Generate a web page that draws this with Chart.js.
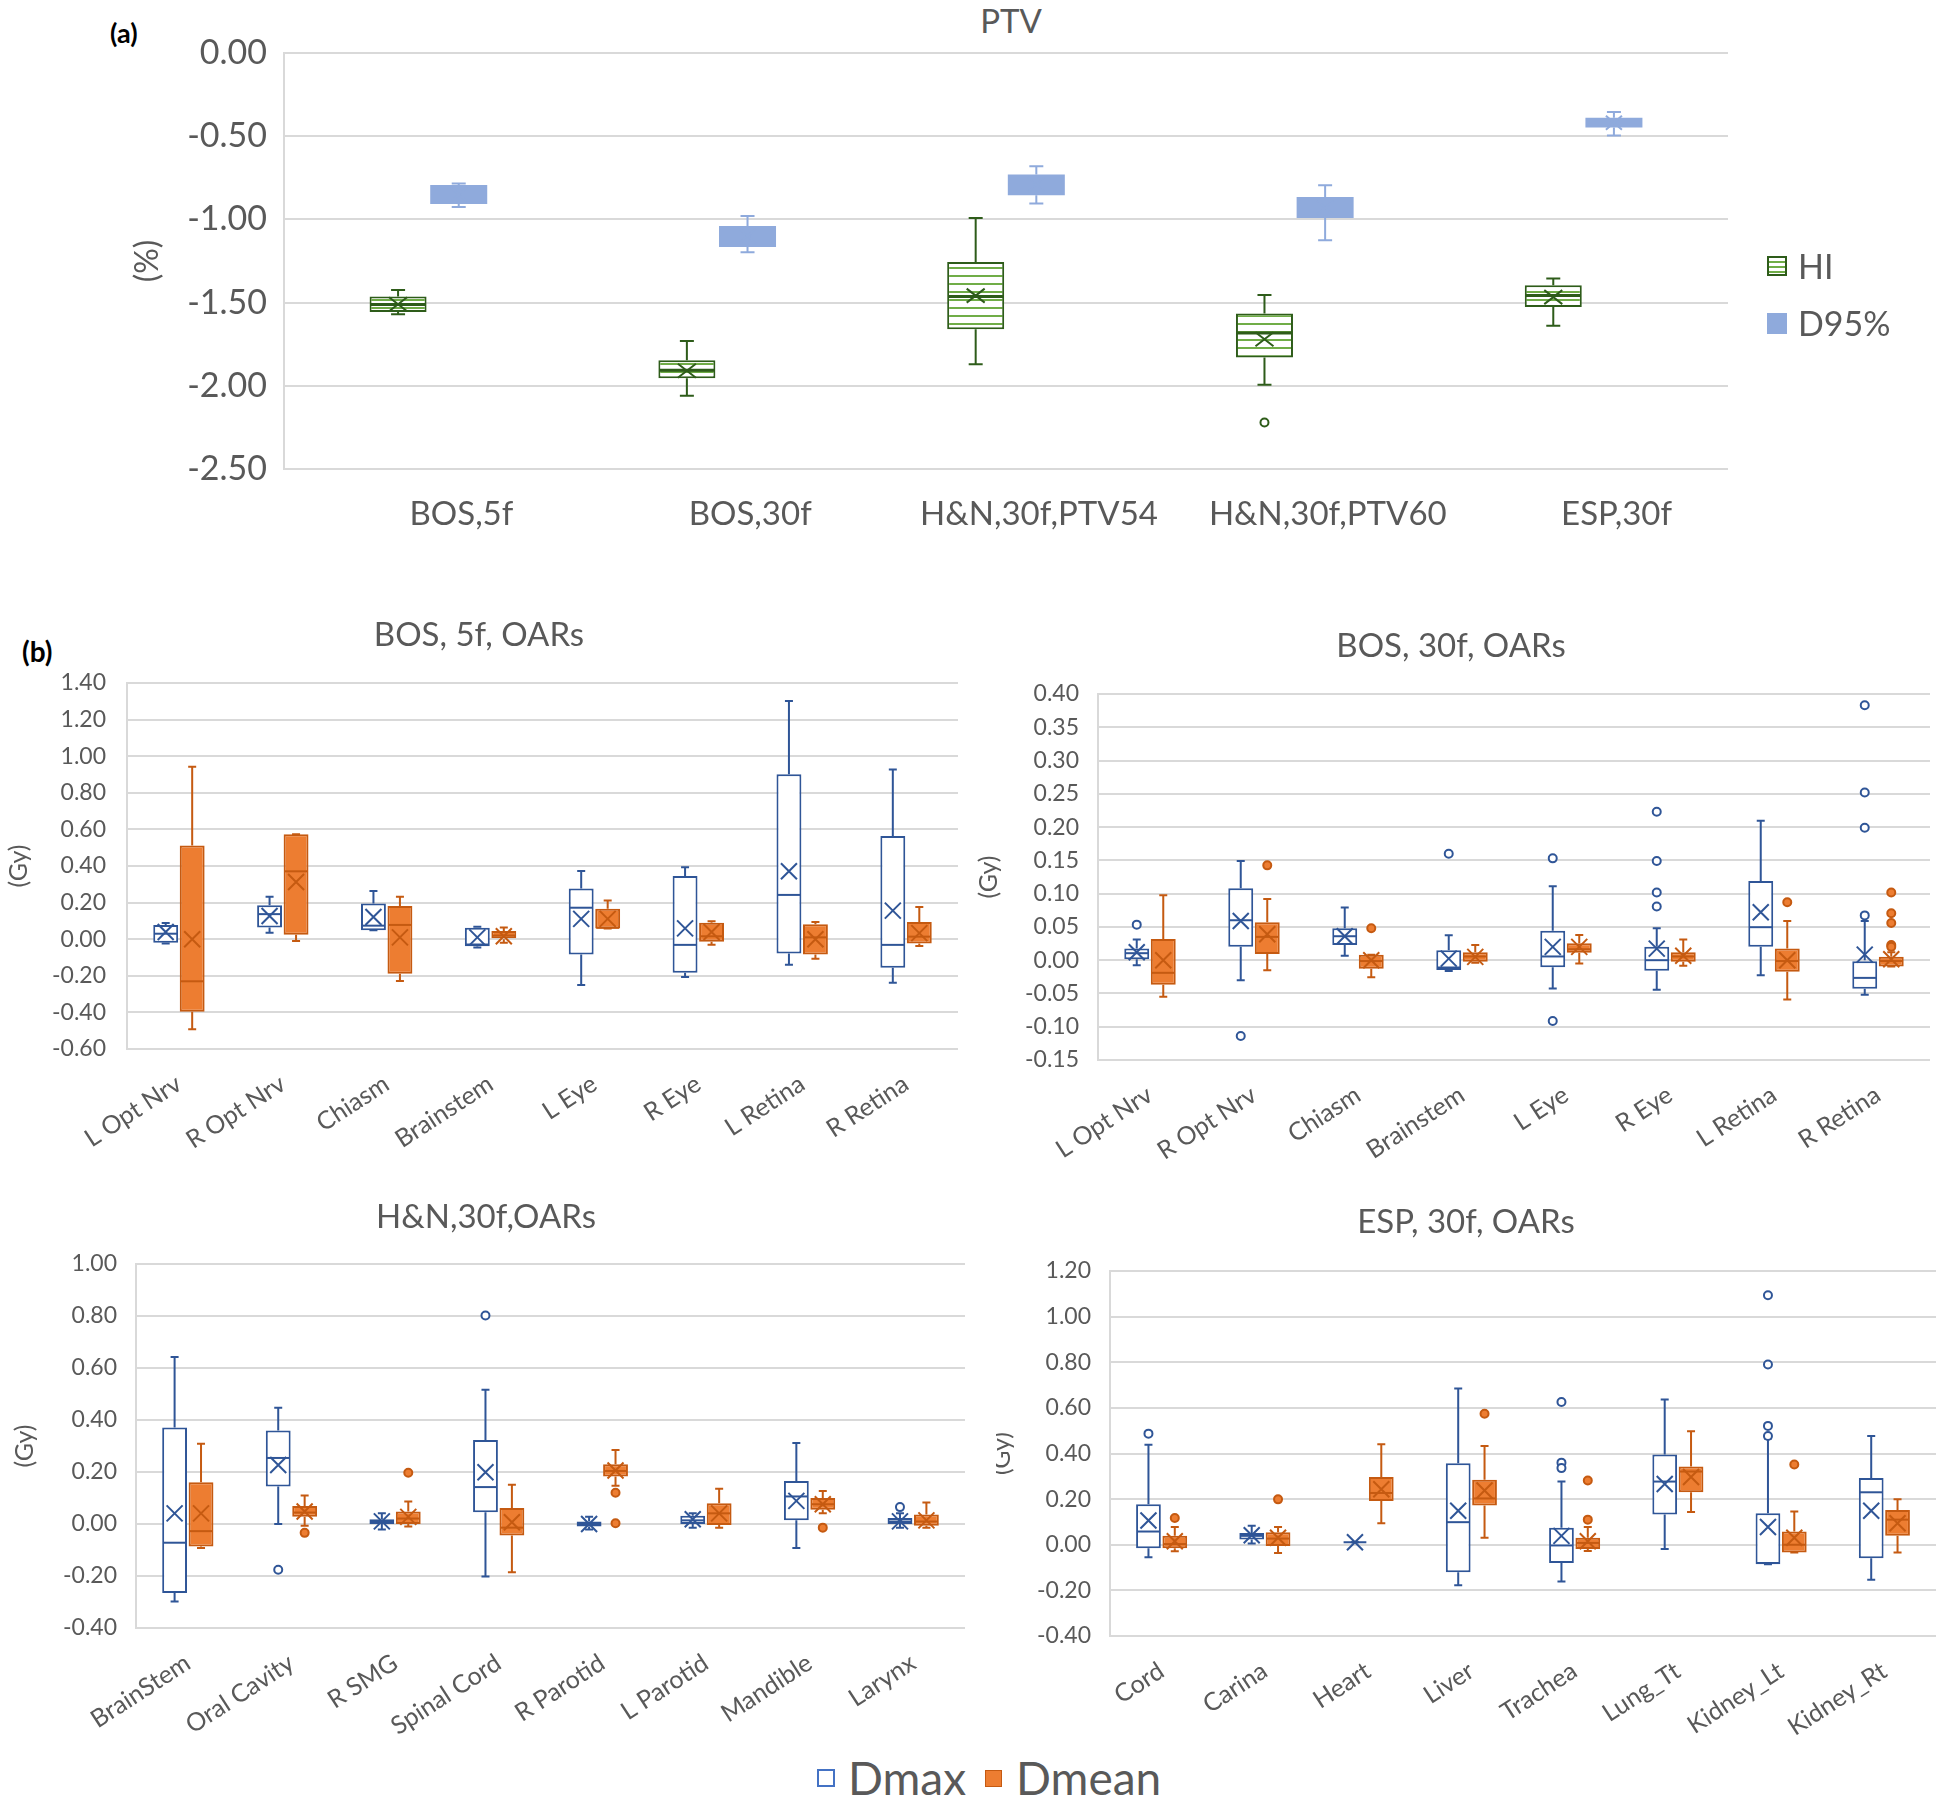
<!DOCTYPE html>
<html>
<head>
<meta charset="utf-8">
<script src="https://cdn.jsdelivr.net/npm/chart.js@4.4.0/dist/chart.umd.min.js"></script>
<style>
  html, body { margin: 0; padding: 0; background: #fff; }
  body { width: 1950px; height: 1801px; position: relative; overflow: hidden; font-family: Lato, 'Open Sans', sans-serif; }
  .box { position: absolute; }
  .tag { position: absolute; font-weight: bold; color: #000; line-height: 1; }
  .ttl { position: absolute; color: #595959; line-height: 1; transform: translate(-50%, -50%); white-space: nowrap; }
  .leg { position: absolute; display: flex; align-items: center; color: #595959; line-height: 1; }
  .sw { display: inline-block; box-sizing: border-box; }
</style>
</head>
<body>

<div class="tag" style="left:110px;top:19px;font-size:27px;">(a)</div>
<div class="tag" style="left:22px;top:637px;font-size:28px;">(b)</div>
<div class="ttl" style="left:1011px;top:20px;font-size:33px;">PTV</div>

<div class="box" style="left:0;top:0;width:1950px;height:560px;"><canvas id="c-ptv"></canvas></div>
<div class="box" style="left:0;top:600px;width:960px;height:570px;"><canvas id="c-bos5"></canvas></div>
<div class="box" style="left:972px;top:600px;width:958px;height:575px;"><canvas id="c-bos30"></canvas></div>
<div class="box" style="left:7px;top:1180px;width:965px;height:570px;"><canvas id="c-hn"></canvas></div>
<div class="box" style="left:996px;top:1180px;width:954px;height:570px;"><canvas id="c-esp"></canvas></div>

<!-- legend (a) -->
<div class="leg" style="left:1767px;top:249px;font-size:34px;">
  <span class="sw" style="width:20px;height:20px;border:2px solid #2e5c1a;background:repeating-linear-gradient(to bottom,#fff 0 3px,#70ad47 3px 5px);"></span>
  <span style="margin-left:11px;">HI</span>
</div>
<div class="leg" style="left:1767px;top:306px;font-size:34px;">
  <span class="sw" style="width:20px;height:21px;background:#8faadc;"></span>
  <span style="margin-left:11px;">D95%</span>
</div>

<!-- legend (b) -->
<div class="leg" style="left:817px;top:1755px;font-size:46px;">
  <span class="sw" style="width:18px;height:18px;border:2px solid #4472c4;background:#fff;"></span>
  <span style="margin-left:13px;">Dmax</span>
  <span class="sw" style="width:17px;height:17px;border:1px solid #c55a11;background:#ed7d31;margin-left:19px;"></span>
  <span style="margin-left:14px;">Dmean</span>
</div>

<script>
/* ── DATOS ── each row: [min, q1, median, q3, max, mean] ── */
const ptvCats = ['BOS,5f', 'BOS,30f', 'H&N,30f,PTV54', 'H&N,30f,PTV60', 'ESP,30f'];
const hiStats = [
  [-1.570, -1.557, -1.512, -1.463, -1.424, -1.510],
  [-2.060, -1.954, -1.907, -1.847, -1.731, -1.910],
  [-1.871, -1.660, -1.463, -1.256, -0.992, -1.458],
  [-1.993, -1.830, -1.682, -1.566, -1.454, -1.720],
  [-1.639, -1.527, -1.458, -1.396, -1.355, -1.467],
];
const hiOut = [[], [], [], [-2.221], []];
const d95Stats = [
  [-0.926, -0.908, -0.850, -0.793, -0.784, -0.850],
  [-1.198, -1.166, -1.100, -1.040, -0.979, -1.100],
  [-0.904, -0.855, -0.790, -0.730, -0.681, -0.790],
  [-1.125, -0.992, -0.930, -0.866, -0.795, -0.930],
  [-0.496, -0.447, -0.420, -0.389, -0.354, -0.419],
];
const d95Out = [[], [], [], [], []];

const bosCats = ['L Opt Nrv', 'R Opt Nrv', 'Chiasm', 'Brainstem', 'L Eye', 'R Eye', 'L Retina', 'R Retina'];
const bos5Dmax = [
  [-0.023, -0.020, 0.030, 0.078, 0.088, 0.039],
  [0.035, 0.064, 0.137, 0.186, 0.232, 0.127],
  [0.049, 0.049, 0.074, 0.195, 0.264, 0.121],
  [-0.045, -0.039, -0.029, 0.0625, 0.068, 0.010],
  [-0.250, -0.084, 0.172, 0.277, 0.373, 0.111],
  [-0.207, -0.184, -0.031, 0.346, 0.393, 0.059],
  [-0.139, -0.078, 0.242, 0.902, 1.301, 0.371],
  [-0.238, -0.156, -0.031, 0.564, 0.928, 0.156],
];
const bos5DmaxOut = [[], [], [], [], [], [], [], []];
const bos5Dmean = [
  [-0.492, -0.396, -0.230, 0.512, 0.943, 0.000],
  [-0.010, 0.025, 0.371, 0.574, 0.574, 0.313],
  [-0.229, -0.189, 0.078, 0.182, 0.232, 0.010],
  [-0.020, 0.000, 0.020, 0.045, 0.064, 0.016],
  [0.059, 0.059, 0.062, 0.166, 0.211, 0.111],
  [-0.031, -0.014, 0.016, 0.090, 0.098, 0.039],
  [-0.107, -0.084, 0.010, 0.082, 0.094, 0.000],
  [-0.037, -0.023, 0.014, 0.094, 0.176, 0.033],
];
const bos5DmeanOut = [[], [], [], [], [], [], [], []];

const bos30Dmax = [
  [-0.0078, 0.0013, 0.0105, 0.0174, 0.031, 0.012],
  [-0.030, 0.020, 0.060, 0.108, 0.149, 0.059],
  [0.0067, 0.023, 0.036, 0.048, 0.079, 0.036],
  [-0.0164, -0.0148, -0.011, 0.0148, 0.0373, 0.0024],
  [-0.0427, -0.0105, 0.0056, 0.0443, 0.111, 0.020],
  [-0.0443, -0.0158, 0.000, 0.020, 0.048, 0.0174],
  [-0.0228, 0.020, 0.0496, 0.119, 0.2095, 0.072],
  [-0.052, -0.043, -0.0266, 0.000, 0.059, 0.0083],
];
const bos30DmaxOut = [[0.0534], [-0.114], [], [0.160], [0.153, -0.0915], [0.223, 0.149, 0.1017, 0.0808], [], [0.383, 0.252, 0.199, 0.0673]];
const bos30Dmean = [
  [-0.055, -0.037, -0.019, 0.032, 0.0974, 0.000],
  [-0.015, 0.0094, 0.035, 0.057, 0.092, 0.039],
  [-0.0255, -0.013, -0.0013, 0.0083, 0.0083, 0.000],
  [-0.004, -0.0024, 0.0056, 0.012, 0.0228, 0.005],
  [-0.0051, 0.011, 0.0164, 0.0255, 0.0378, 0.020],
  [-0.0083, -0.0024, 0.0056, 0.012, 0.031, 0.0067],
  [-0.059, -0.0174, -0.0013, 0.0174, 0.0588, 0.000],
  [-0.0094, -0.0094, -0.0013, 0.005, 0.012, 0.0013],
];
const bos30DmeanOut = [[], [0.1425], [0.048], [], [], [], [0.087], [0.1017, 0.0706, 0.056, 0.0228, 0.020]];

const hnCats = ['BrainStem', 'Oral Cavity', 'R SMG', 'Spinal Cord', 'R Parotid', 'L Parotid', 'Mandible', 'Larynx'];
const hnDmax = [
  [-0.298, -0.265, -0.072, 0.371, 0.642, 0.041],
  [0.000, 0.144, 0.254, 0.360, 0.447, 0.227],
  [-0.021, 0.000, 0.0096, 0.018, 0.041, 0.010],
  [-0.202, 0.045, 0.142, 0.323, 0.516, 0.199],
  [-0.021, -0.0096, 0.000, 0.0096, 0.0275, 0.000],
  [-0.014, 0.000, 0.014, 0.032, 0.041, 0.018],
  [-0.092, 0.014, 0.106, 0.165, 0.312, 0.089],
  [-0.014, 0.000, 0.0096, 0.023, 0.041, 0.010],
];
const hnDmaxOut = [[], [-0.176], [], [0.802], [], [], [], [0.065]];
const hnDmean = [
  [-0.092, -0.087, -0.0275, 0.161, 0.309, 0.041],
  [-0.007, 0.0275, 0.044, 0.069, 0.110, 0.048],
  [-0.010, 0.000, 0.021, 0.048, 0.087, 0.0275],
  [-0.186, -0.044, -0.014, 0.062, 0.151, 0.007],
  [0.147, 0.183, 0.204, 0.230, 0.285, 0.206],
  [-0.014, -0.004, 0.041, 0.080, 0.136, 0.041],
  [0.041, 0.055, 0.076, 0.100, 0.127, 0.076],
  [-0.014, -0.007, 0.0096, 0.037, 0.083, 0.014],
];
const hnDmeanOut = [[], [-0.034], [0.197], [], [0.120, 0.003], [], [-0.014], []];

const espCats = ['Cord', 'Carina', 'Heart', 'Liver', 'Trachea', 'Lung_Tt', 'Kidney_Lt', 'Kidney_Rt'];
const espDmax = [
  [-0.055, -0.0156, 0.058, 0.177, 0.438, 0.106],
  [0.005, 0.023, 0.039, 0.052, 0.083, 0.042],
  [0.011, 0.011, 0.011, 0.011, 0.011, 0.011],
  [-0.177, -0.120, 0.099, 0.357, 0.685, 0.149],
  [-0.161, -0.080, -0.003, 0.075, 0.277, 0.039],
  [-0.019, 0.133, 0.277, 0.396, 0.637, 0.266],
  [-0.086, -0.086, -0.080, 0.138, 0.466, 0.078],
  [-0.153, -0.059, 0.230, 0.293, 0.477, 0.149],
];
const espDmaxOut = [[0.487], [], [], [], [0.626, 0.360, 0.336], [], [1.094, 0.790, 0.521, 0.477], []];
const espDmean = [
  [-0.028, -0.0156, 0.003, 0.039, 0.078, 0.0156],
  [-0.036, -0.005, 0.027, 0.055, 0.078, 0.031],
  [0.094, 0.192, 0.227, 0.297, 0.441, 0.243],
  [0.031, 0.172, 0.203, 0.285, 0.433, 0.238],
  [-0.027, -0.019, 0.008, 0.031, 0.078, 0.0156],
  [0.144, 0.230, 0.321, 0.343, 0.498, 0.297],
  [-0.034, -0.034, 0.000, 0.058, 0.146, 0.031],
  [-0.034, 0.039, 0.110, 0.152, 0.199, 0.094],
];
const espDmeanOut = [[0.117], [0.199], [], [0.574], [0.282, 0.110], [], [0.352], []];

/* ── ESTILOS ── */
const FONT = "Lato, 'Open Sans', sans-serif";
const TXT = '#595959';
const GRID = '#d9d9d9';

function stripes(canvas) {
  const c = document.createElement('canvas');
  c.width = 8; c.height = 8;
  const g = c.getContext('2d');
  g.fillStyle = '#fff'; g.fillRect(0, 0, 8, 8);
  g.fillStyle = '#70ad47'; g.fillRect(0, 3, 8, 2);
  return canvas.getContext('2d').createPattern(c, 'repeat');
}

const styleHI    = { line: '#2e5c1a', lw: 2, med: 3, cap: 7, hx: 9, hy: 7, dot: '#fff', r: 4 };
const styleD95   = { line: '#8faadc', lw: 2, med: 2, cap: 7, hx: 8, hy: 7, dot: '#8faadc', r: 4 };
const styleDmax  = { line: '#2f5597', lw: 2, med: 2, cap: 4, hx: 8, hy: 8, dot: '#fff', r: 4 };
const styleDmean = { line: '#c55a11', lw: 2, med: 2, cap: 4, hx: 8, hy: 8, dot: '#ed7d31', r: 4 };

// whiskers, median, mean (X) and outliers drawn on top of the floating bars
const boxExtras = {
  id: 'boxExtras',
  afterDatasetsDraw(chart) {
    const ctx = chart.ctx;
    const ys = chart.scales.y;
    const py = (v) => ys.getPixelForValue(v);
    chart.data.datasets.forEach((ds, i) => {
      const meta = chart.getDatasetMeta(i);
      const st = ds.boxStyle;
      meta.data.forEach((bar, j) => {
        const s = ds.stats[j];
        const x = bar.x, hw = bar.width / 2;
        ctx.save();
        ctx.strokeStyle = st.line;
        ctx.lineWidth = st.lw;
        ctx.beginPath();
        ctx.moveTo(x, py(s[3])); ctx.lineTo(x, py(s[4]));
        ctx.moveTo(x - st.cap, py(s[4])); ctx.lineTo(x + st.cap, py(s[4]));
        ctx.moveTo(x, py(s[1])); ctx.lineTo(x, py(s[0]));
        ctx.moveTo(x - st.cap, py(s[0])); ctx.lineTo(x + st.cap, py(s[0]));
        ctx.stroke();
        // median
        ctx.lineWidth = st.med;
        ctx.beginPath();
        ctx.moveTo(x - hw + 1, py(s[2])); ctx.lineTo(x + hw - 1, py(s[2]));
        ctx.stroke();
        // mean
        ctx.lineWidth = 2;
        const my = py(s[5]);
        ctx.beginPath();
        ctx.moveTo(x - st.hx, my - st.hy); ctx.lineTo(x + st.hx, my + st.hy);
        ctx.moveTo(x - st.hx, my + st.hy); ctx.lineTo(x + st.hx, my - st.hy);
        ctx.stroke();
        // outliers
        (ds.outliers[j] || []).forEach((v) => {
          ctx.beginPath();
          ctx.arc(x, py(v), st.r, 0, Math.PI * 2);
          ctx.fillStyle = st.dot;
          ctx.fill();
          ctx.stroke();
        });
        ctx.restore();
      });
    });
  },
};

function series(label, stats, outliers, fill, border, bw, st) {
  return {
    label,
    data: stats.map((s) => [s[1], s[3]]),
    stats, outliers,
    backgroundColor: fill,
    borderColor: border,
    borderWidth: bw,
    borderSkipped: false,
    boxStyle: st,
  };
}

const fmt = (v) => (Math.abs(v) < 1e-9 ? 0 : v).toFixed(2);

function makeChart(id, cats, datasets, o) {
  return new Chart(document.getElementById(id), {
    type: 'bar',
    data: { labels: cats, datasets },
    options: {
      responsive: true,
      maintainAspectRatio: false,
      animation: false,
      categoryPercentage: o.catPct,
      barPercentage: 0.94,
      layout: { padding: { left: 0, right: o.padRight, top: o.padTop || 0, bottom: 0 } },
      plugins: {
        legend: { display: false },
        tooltip: { enabled: false },
        title: {
          display: !!o.title, text: o.title, color: TXT,
          font: { family: FONT, size: 33, weight: 'normal' },
          padding: { top: o.titleTop, bottom: o.titleBottom },
        },
      },
      scales: {
        x: {
          grid: { display: false },
          border: { display: false },
          ticks: {
            color: TXT, font: { family: FONT, size: o.xFont },
            autoSkip: false, minRotation: o.rot, maxRotation: o.rot,
            padding: o.xPad, labelOffset: o.labelOffset || 0,
          },
          afterFit: (s) => { s.height = o.xH; },
        },
        y: {
          min: o.min, max: o.max,
          grid: { color: GRID, lineWidth: 2, drawTicks: false },
          border: { display: true, color: GRID, width: 2 },
          ticks: { stepSize: o.step, color: TXT, font: { family: FONT, size: o.yFont }, padding: o.yPad, callback: fmt },
          title: {
            display: true, text: o.yTitle, color: TXT,
            font: { family: FONT, size: o.yTitleFont },
            padding: { top: o.yTitlePad, bottom: 0 },
          },
          afterFit: (s) => { s.width = o.yW; },
        },
      },
    },
    plugins: [boxExtras],
  });
}

/* ── (a) PTV ── */
const hiFill = stripes(document.getElementById('c-ptv'));
makeChart('c-ptv', ptvCats, [
  series('HI', hiStats, hiOut, hiFill, styleHI.line, 2, styleHI),
  series('D95%', d95Stats, d95Out, '#8faadc', '#8faadc', 0, styleD95),
], {
  title: null, padTop: 53,
  min: -2.5, max: 0, step: 0.5, yFont: 34, yPad: 17, yW: 284,
  yTitle: '(%)', yTitleFont: 32, yTitlePad: 128,
  xFont: 33, xPad: 18, xH: 91, rot: 0, labelOffset: 33,
  padRight: 222, catPct: 0.42,
});

/* ── (b) OARs ── */
const bCommon = { yFont: 23, yTitle: '(Gy)', yTitleFont: 25, xFont: 25, rot: 33, xPad: 12, catPct: 0.51 };

makeChart('c-bos5', bosCats, [
  series('Dmax', bos5Dmax, bos5DmaxOut, '#fff', styleDmax.line, 2, styleDmax),
  series('Dmean', bos5Dmean, bos5DmeanOut, '#ed7d31', styleDmean.line, 2, styleDmean),
], Object.assign({}, bCommon, {
  title: 'BOS, 5f, OARs', titleTop: 15.2, titleBottom: 28.2,
  min: -0.6, max: 1.4, step: 0.2, yPad: 21, yW: 127, yTitlePad: 4,
  xH: 121, padRight: 2,
}));

makeChart('c-bos30', bosCats, [
  series('Dmax', bos30Dmax, bos30DmaxOut, '#fff', styleDmax.line, 2, styleDmax),
  series('Dmean', bos30Dmean, bos30DmeanOut, '#ed7d31', styleDmean.line, 2, styleDmean),
], Object.assign({}, bCommon, {
  title: 'BOS, 30f, OARs', titleTop: 26.2, titleBottom: 28.2,
  min: -0.15, max: 0.4, step: 0.05, yPad: 19, yW: 126, yTitlePad: 2,
  xH: 115, padRight: 0,
}));

makeChart('c-hn', hnCats, [
  series('Dmax', hnDmax, hnDmaxOut, '#fff', styleDmax.line, 2, styleDmax),
  series('Dmean', hnDmean, hnDmeanOut, '#ed7d31', styleDmean.line, 2, styleDmean),
], Object.assign({}, bCommon, {
  title: 'H&N,30f,OARs', titleTop: 17.2, titleBottom: 27.2,
  min: -0.4, max: 1.0, step: 0.2, yPad: 19, yW: 129, yTitlePad: 3,
  xH: 122, padRight: 7,
}));

makeChart('c-esp', espCats, [
  series('Dmax', espDmax, espDmaxOut, '#fff', styleDmax.line, 2, styleDmax),
  series('Dmean', espDmean, espDmeanOut, '#ed7d31', styleDmean.line, 2, styleDmean),
], Object.assign({}, bCommon, {
  title: 'ESP, 30f, OARs', titleTop: 22.2, titleBottom: 29.2,
  min: -0.4, max: 1.2, step: 0.2, yPad: 19, yW: 114, yTitlePad: -9,
  xH: 114, padRight: 14,
}));
</script>
</body>
</html>
